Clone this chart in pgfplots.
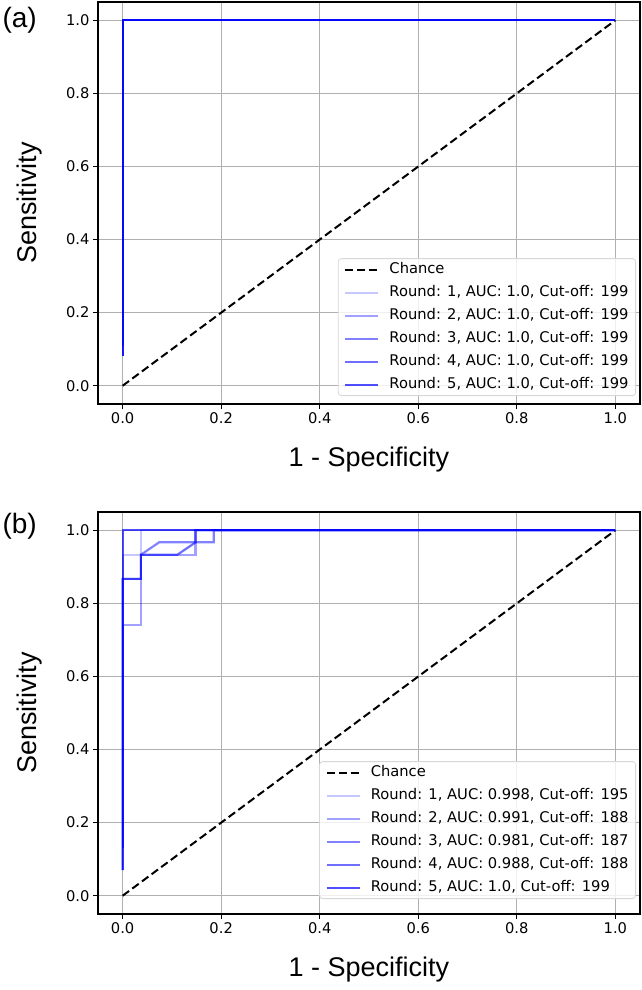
\documentclass[border=0pt]{standalone}
\usepackage{fontspec}
\setmainfont{DejaVu Sans}
\newfontfamily\arialfont{Liberation Sans}
\usepackage{pgfplots}
\pgfplotsset{compat=1.18}
\definecolor{gridgray}{RGB}{176,176,176}
\definecolor{legframe}{RGB}{215,215,215}

\pgfplotsset{
  rocaxis/.style={
    scale only axis, width=542pt, height=402pt,
    xmin=-0.05, xmax=1.05, ymin=-0.05, ymax=1.05,
    xtick={0,0.2,0.4,0.6,0.8,1}, ytick={0,0.2,0.4,0.6,0.8,1},
    xticklabels={0.0,0.2,0.4,0.6,0.8,1.0},
    yticklabels={0.0,0.2,0.4,0.6,0.8,1.0},
    xtick pos=bottom, ytick pos=left,
    tick align=outside, major tick length=5pt,
    tick style={black, line width=1pt},
    grid=major, major grid style={gridgray, line width=1pt},
    axis line style={black, line width=1.3pt},
    ticklabel style={font=\fontsize{14.7}{16}\selectfont},
    xlabel={1 - Specificity}, ylabel={Sensitivity},
    label style={font=\arialfont\fontsize{27}{30}\selectfont},
    xlabel style={at={(axis description cs:0.5,0)}, anchor=center, yshift=-56pt},
    ylabel style={at={(axis description cs:-0.1255,0.5)}, anchor=center},
    legend cell align=left,
    legend style={font=\fontsize{14.7}{16}\selectfont, draw=legframe, line width=0.8pt,
      rounded corners=3pt, fill=white, fill opacity=0.8, text opacity=1,
      at={(1,0)}, anchor=south east, xshift=-4pt, yshift=8pt,
      inner xsep=6pt, inner ysep=3pt, row sep=7pt, column sep=9pt,
      nodes={inner sep=1pt, text height=11pt, text depth=3pt}},
    legend image code/.code={\draw[##1] (0pt,0pt) -- (33pt,0pt);},
  },
  chance/.style={black, line width=2pt, dash pattern=on 8pt off 4pt},
  r1/.style={blue, line width=2.2pt, opacity=0.22},
  r2/.style={blue, line width=2.2pt, opacity=0.37},
  r3/.style={blue, line width=2.2pt, opacity=0.49},
  r4/.style={blue, line width=2.2pt, opacity=0.57},
  r5/.style={blue, line width=2.2pt, opacity=0.69},
}

\begin{document}
\begin{tikzpicture}
\useasboundingbox (0pt,0pt) rectangle (642pt,-990pt);

\begin{axis}[rocaxis, at={(98pt,-404pt)}, anchor=south west]
\addplot[chance] coordinates {(0,0) (1,1)};
\addlegendentry{Chance}
\addplot[r1] coordinates {(0,0.08) (0,1) (1,1)};
\addlegendentry{Round: 1, AUC: 1.0, Cut-off: 199}
\addplot[r2] coordinates {(0,0.08) (0,1) (1,1)};
\addlegendentry{Round: 2, AUC: 1.0, Cut-off: 199}
\addplot[r3] coordinates {(0,0.08) (0,1) (1,1)};
\addlegendentry{Round: 3, AUC: 1.0, Cut-off: 199}
\addplot[r4] coordinates {(0,0.08) (0,1) (1,1)};
\addlegendentry{Round: 4, AUC: 1.0, Cut-off: 199}
\addplot[r5] coordinates {(0,0.11) (0,1) (1,1)};
\addlegendentry{Round: 5, AUC: 1.0, Cut-off: 199}
\end{axis}

\begin{axis}[rocaxis, at={(98pt,-914pt)}, anchor=south west, legend style={yshift=7pt}]
\addplot[chance] coordinates {(0,0) (1,1)};
\addlegendentry{Chance}
\addplot[r1] coordinates {(0,0.07) (0,0.933) (0.037,0.933) (0.037,1) (1,1)};
\addlegendentry{Round: 1, AUC: 0.998, Cut-off: 195}
\addplot[r2] coordinates {(0,0.07) (0,0.74) (0.037,0.74) (0.037,0.933) (0.148,0.933) (0.148,1) (1,1)};
\addlegendentry{Round: 2, AUC: 0.991, Cut-off: 188}
\addplot[r3] coordinates {(0,0.07) (0,0.867) (0.037,0.867) (0.037,0.933) (0.074,0.967) (0.185,0.967) (0.185,1) (1,1)};
\addlegendentry{Round: 3, AUC: 0.981, Cut-off: 187}
\addplot[r4] coordinates {(0,0.07) (0,0.867) (0.037,0.867) (0.037,0.933) (0.111,0.933) (0.148,0.967) (0.148,1) (1,1)};
\addlegendentry{Round: 4, AUC: 0.988, Cut-off: 188}
\addplot[r5] coordinates {(0,0.13) (0,1) (1,1)};
\addlegendentry{Round: 5, AUC: 1.0, Cut-off: 199}
\end{axis}

\node[font=\arialfont\fontsize{28}{30}\selectfont, anchor=west] at (-1pt,-20pt) {(a)};
\node[font=\arialfont\fontsize{28}{30}\selectfont, anchor=west] at (-1pt,-526pt) {(b)};
\end{tikzpicture}
\end{document}
